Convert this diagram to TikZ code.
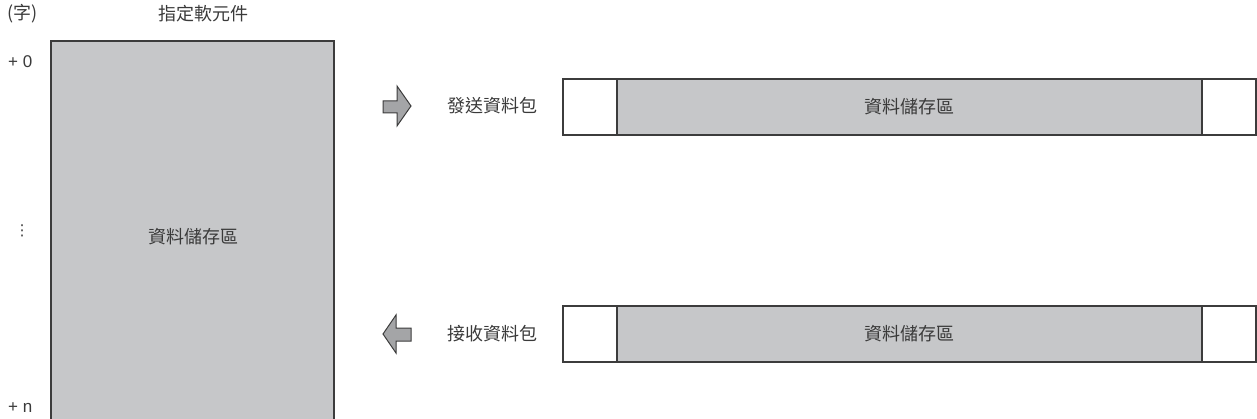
\documentclass[tikz,border=0pt]{standalone}
\usepackage{fontspec}
\setmainfont{Liberation Sans}
\newfontfamily\cjk{Noto Sans CJK TC}
\newfontfamily\symf{DejaVu Sans}
\usetikzlibrary{positioning}
\definecolor{ppline}{HTML}{3C3C3C}
\definecolor{ppgray}{HTML}{C6C7C9}
\definecolor{pparrow}{HTML}{A4A5A7}
\definecolor{pptext}{HTML}{3A3A3A}
\tikzset{
  area/.style={draw=ppline,line width=1.2pt,fill=ppgray,inner sep=0pt,outer sep=0pt,
               font=\cjk\fontsize{18}{18}\selectfont,text=pptext},
  hdr/.style={draw=ppline,line width=1.2pt,fill=white,inner sep=0pt,outer sep=0pt,
              minimum width=54pt,minimum height=56pt},
  lbl/.style={font=\cjk\fontsize{18}{18}\selectfont,text=pptext,inner sep=0pt},
  off/.style={font=\fontsize{17}{17}\selectfont,text=pptext,inner sep=0pt,anchor=west},
  pkarrow/.style={draw=ppline,line width=1pt,fill=pparrow,line join=miter},
}
\begin{document}
\begin{tikzpicture}[x=1pt,y=-1pt]
  \useasboundingbox (0,0) rectangle (1257,419);

  % ---- device area ----
  \node[lbl,anchor=west] (unit) at (7,14) {(字)};
  \node[lbl] (devname) at (203,14) {指定軟元件};
  \node[area,anchor=north west,minimum width=283pt,minimum height=380pt] (dev) at (51,41) {};
  \node[lbl] (devtxt) at (193,237) {資料儲存區};
  \node[off] (ofs0) at (8,62) {+ 0};
  \node[off,anchor=center,font=\symf\fontsize{15}{15}\selectfont] (ofsdots) at (22,231) {⋮};
  \node[off] (ofsn) at (8,408) {+ n};

  % ---- send packet ----
  \draw[pkarrow] (383,101) -- (397,101) -- (397,86) -- (411,106) -- (397,126)
    -- (397,113) -- (383,113) -- cycle;
  \node[lbl,anchor=west] (sndlbl) at (447,106) {發送資料包};
  \node[hdr,anchor=north west] (sndhead) at (563,79) {};
  \node[area,right=0pt of sndhead,minimum width=585pt,minimum height=56pt] (snddata) {資料儲存區};
  \node[hdr,right=0pt of snddata] (sndtail) {};

  % ---- receive packet ----
  \draw[pkarrow] (411,328) -- (396,328) -- (396,315) -- (383,334) -- (396,353)
    -- (396,341) -- (411,341) -- cycle;
  \node[lbl,anchor=west] (rcvlbl) at (447,334) {接收資料包};
  \node[hdr,anchor=north west] (rcvhead) at (563,306) {};
  \node[area,right=0pt of rcvhead,minimum width=585pt,minimum height=56pt] (rcvdata) {資料儲存區};
  \node[hdr,right=0pt of rcvdata] (rcvtail) {};
\end{tikzpicture}
\end{document}
